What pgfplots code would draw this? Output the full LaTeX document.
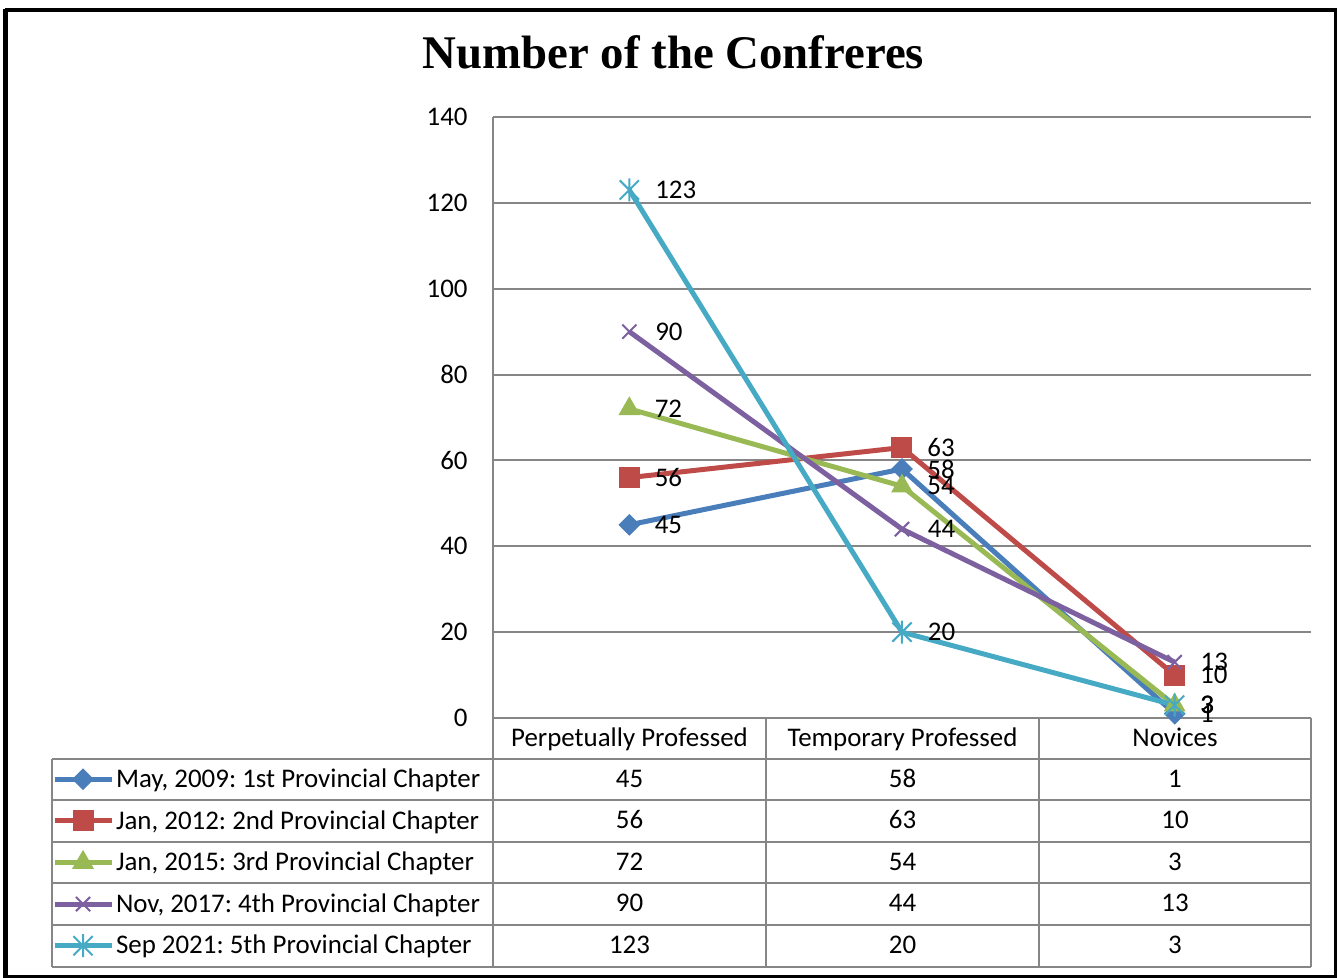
\documentclass[border=0pt]{standalone}
\usepackage{fontspec}
\setmainfont{Carlito}
\newfontfamily\titlefont{Liberation Serif}
\usepackage{pgfplots}
\pgfplotsset{compat=1.18}

\definecolor{c1}{RGB}{74,126,187}
\definecolor{c2}{RGB}{190,75,72}
\definecolor{c3}{RGB}{152,185,84}
\definecolor{c4}{RGB}{125,96,160}
\definecolor{c5}{RGB}{70,170,197}
\definecolor{gridgray}{RGB}{134,134,134}

\newcommand\cf{\fontsize{13.45pt}{16pt}\selectfont}

\pgfdeclareplotmark{xstar}{%
 \pgfpathmoveto{\pgfqpoint{-\pgfplotmarksize}{-\pgfplotmarksize}}%
 \pgfpathlineto{\pgfqpoint{\pgfplotmarksize}{\pgfplotmarksize}}%
 \pgfpathmoveto{\pgfqpoint{-\pgfplotmarksize}{\pgfplotmarksize}}%
 \pgfpathlineto{\pgfqpoint{\pgfplotmarksize}{-\pgfplotmarksize}}%
 \pgfpathmoveto{\pgfqpoint{0pt}{-1.2\pgfplotmarksize}}%
 \pgfpathlineto{\pgfqpoint{0pt}{1.2\pgfplotmarksize}}%
 \pgfusepathqstroke}

\begin{document}
\frenchspacing
\begin{tikzpicture}
\path[use as bounding box] (0,0) rectangle (670.5pt,-489pt);
\begin{axis}[
  at={(246.5pt,-359pt)}, anchor=south west,
  scale only axis, width=409pt, height=300.5pt,
  xmin=-0.5, xmax=2.5, ymin=0, ymax=140,
  ytick={0,20,...,140}, xtick=\empty,
  axis x line*=bottom, axis y line*=left,
  axis line style={gridgray, line width=1pt, -},
  ymajorgrids, major grid style={gridgray, line width=1pt},
  major tick length=0pt,
  tick label style={font=\cf},
  /pgf/number format/assume math mode=true,
  yticklabel style={inner sep=0pt, xshift=-12.5pt},
  clip=false,
  nodes near coords,
  nodes near coords style={font=\cf, text=black, anchor=west, inner sep=0pt, xshift=12.5pt},
  legend style={at={(-0.5391,-0.0682)}, anchor=north west, draw=none, fill=none,
    inner sep=0pt, outer sep=0pt, row sep=0pt, font=\cf,
    nodes={inner sep=0pt, text height=14.25pt, text depth=6.55pt},
    /tikz/every odd column/.append style={column sep=1pt}},
  legend cell align=left,
  legend image code/.code={\draw[mark repeat=2,mark phase=2] plot coordinates {(0pt,0.25pt)(14.25pt,0.25pt)(28.5pt,0.25pt)};},
]
\addplot[c1, line width=2.5pt, mark=square*, mark size=3.6pt, mark options={rotate=45, fill=c1, line width=0.5pt}]
  coordinates {(0,45) (1,58) (2,1)};
\addlegendentry{May, 2009: 1st Provincial Chapter}
\addplot[c2, line width=2.5pt, mark=square*, mark size=5pt, mark options={fill=c2, line width=0.5pt}]
  coordinates {(0,56) (1,63) (2,10)};
\addlegendentry{Jan, 2012: 2nd Provincial Chapter}
\addplot[c3, line width=2.5pt, mark=triangle*, mark size=5.8pt, mark options={fill=c3, line width=0.5pt}]
  coordinates {(0,72) (1,54) (2,3)};
\addlegendentry{Jan, 2015: 3rd Provincial Chapter}
\addplot[c4, line width=2.5pt, mark=x, mark size=5pt, mark options={line width=1pt}]
  coordinates {(0,90) (1,44) (2,13)};
\addlegendentry{Nov, 2017: 4th Provincial Chapter}
\addplot[c5, line width=2.5pt, mark=xstar, mark size=4.8pt, mark options={line width=1pt}]
  coordinates {(0,123) (1,20) (2,3)};
\addlegendentry{Sep 2021: 5th Provincial Chapter}
\end{axis}

\begin{scope}[x=0.5pt, y=-0.5pt]
  % data table grid
  \draw[gridgray, line width=1pt]
    (52,759) -- (1311,759)
    (52,800) -- (1311,800)
    (52,842) -- (1311,842)
    (52,883) -- (1311,883)
    (52,925) -- (1311,925)
    (52,967) -- (1311,967)
    (52,759) -- (52,967)
    (493,718) -- (493,967)
    (766,718) -- (766,967)
    (1039,718) -- (1039,967)
    (1311,718) -- (1311,967);
  \node[font=\cf, anchor=base] at (629.5,746.5) {Perpetually Professed};
  \node[font=\cf, anchor=base] at (902.5,746.5) {Temporary Professed};
  \node[font=\cf, anchor=base] at (1175,746.5) {Novices};
  \foreach \yy/\a/\b/\c in {787.5/45/58/1, 829/56/63/10, 870.5/72/54/3, 912/90/44/13, 954/123/20/3} {
    \node[font=\cf, anchor=base] at (629.5,\yy) {\a};
    \node[font=\cf, anchor=base] at (902.5,\yy) {\b};
    \node[font=\cf, anchor=base] at (1175,\yy) {\c};
  }
  % title
  \node[anchor=base, font={\titlefont\bfseries\fontsize{23.4pt}{28pt}\selectfont}] at (673.5,68.3) {Number of the Confreres};
  % frame
  \draw[line width=2.5pt] (5.8,977.7) -- (5.8,9.5);
  \draw[line width=2pt] (4.5,10.3) -- (1336.7,10.3);
  \draw[line width=1.2pt] (1335.5,9.3) -- (1335.5,977.7);
  \draw[line width=1.2pt] (4.5,976.5) -- (1336.7,976.5);
\end{scope}
\end{tikzpicture}
\end{document}
